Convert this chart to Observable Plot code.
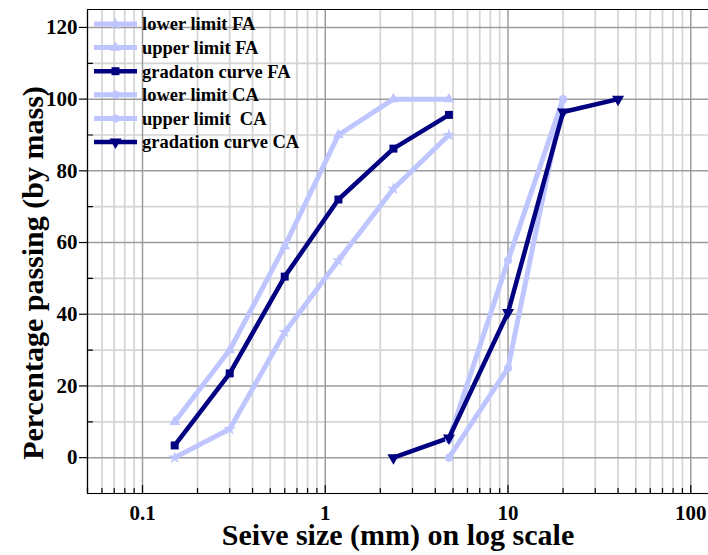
<!DOCTYPE html>
<html>
<head>
<meta charset="utf-8">
<script src="https://cdn.jsdelivr.net/npm/d3@7"></script>
<script src="https://cdn.jsdelivr.net/npm/@observablehq/plot@0.6"></script>
<style>
  body { margin: 0; background: #fff; }
  #chart { position: relative; width: 708px; height: 555px; overflow: hidden; font-family: "Liberation Serif", "Times New Roman", serif; }
  #chart svg { display: block; }
  #legend { position: absolute; left: 0; top: 0; pointer-events: none; }
  #legend text { font-family: "Liberation Serif", "Times New Roman", serif; font-weight: bold; font-size: 18.5px; fill: #000; white-space: pre; }
</style>
</head>
<body>
<div id="chart"></div>
<script>
// ---- Data ----
const sieveFA = [0.15, 0.3, 0.6, 1.18, 2.36, 4.75];
const lowerFA = [0, 8, 35, 55, 75, 90];
const upperFA = [10, 30, 59, 90, 100, 100];
const gradFA  = [3.4, 23.5, 50.5, 72, 86.2, 95.6];

const sieveCAlimits = [4.75, 10, 20];
const lowerCA = [0, 25, 100];
const upperCA = [5, 55, 100];

const sieveCAgrad = [2.36, 4.75, 10, 20, 40];
const gradCA = [0, 5.5, 40.5, 96.4, 100];

const seriesNames = ["lower limit FA", "upper limit FA", "gradaton curve FA", "lower limit CA", "upper limit  CA", "gradation curve CA"];

const xMajorTicks = [0.1, 1, 10, 100];
const xTickLabels = ["0.1", "1", "10", "100"];
const xMinorTicks = [0.05, 0.06, 0.07, 0.08, 0.09, 0.2, 0.3, 0.4, 0.5, 0.6, 0.7, 0.8, 0.9,
                     2, 3, 4, 5, 6, 7, 8, 9, 20, 30, 40, 50, 60, 70, 80, 90];
const yMajorTicks = [0, 20, 40, 60, 80, 100, 120];
const yMinorTicks = [-10, 10, 30, 50, 70, 90, 110];

const xTitle = "Seive size (mm) on log scale";
const yTitle = "Percentage passing (by mass)";

// ---- Styles ----
const light = "#bfc6ff", navy = "#000080";
const styles = [
  {color: light, width: 5, symbol: "star", r: 4, rotate: 0},
  {color: light, width: 5, symbol: "triangle", r: 4, rotate: 0},
  {color: navy, width: 4.5, symbol: "square", r: 4.5, rotate: 0},
  {color: light, width: 5, symbol: "circle", r: 4, rotate: 0},
  {color: light, width: 5, symbol: "circle", r: 4, rotate: 0},
  {color: navy, width: 4.5, symbol: "triangle", r: 4.5, rotate: 180}
];

const seriesData = [
  sieveFA.map((x, i) => ({x, y: lowerFA[i]})),
  sieveFA.map((x, i) => ({x, y: upperFA[i]})),
  sieveFA.map((x, i) => ({x, y: gradFA[i]})),
  sieveCAlimits.map((x, i) => ({x, y: lowerCA[i]})),
  sieveCAlimits.map((x, i) => ({x, y: upperCA[i]})),
  sieveCAgrad.map((x, i) => ({x, y: gradCA[i]}))
];

const dataMarks = [];
seriesData.forEach((d, i) => {
  const s = styles[i];
  dataMarks.push(Plot.line(d, {x: "x", y: "y", stroke: s.color, strokeWidth: s.width, strokeLinejoin: "round", strokeLinecap: "butt"}));
});
seriesData.forEach((d, i) => {
  const s = styles[i];
  dataMarks.push(Plot.dot(d, {x: "x", y: "y", symbol: s.symbol, r: s.r, fill: s.color, stroke: "none", rotate: s.rotate}));
});

const lineShape = {draw(ctx, l) { ctx.moveTo(0, 0); ctx.lineTo(0, -l); }};

const chart = Plot.plot({
  width: 708,
  height: 555,
  marginLeft: 87,
  marginRight: 0,
  marginTop: 9,
  marginBottom: 62,
  style: {fontFamily: "'Liberation Serif', 'Times New Roman', serif", fontWeight: "bold", color: "black", background: "white"},
  x: {type: "log", domain: [0.05, 125]},
  y: {domain: [-10, 125]},
  marks: [
    Plot.ruleX(xMinorTicks, {stroke: "#d4d4d4", strokeWidth: 1.7}),
    Plot.ruleY(yMinorTicks, {stroke: "#d4d4d4", strokeWidth: 1.7}),
    Plot.ruleX(xMajorTicks, {stroke: "#9c9c9c", strokeWidth: 1.5}),
    Plot.ruleY(yMajorTicks, {stroke: "#9c9c9c", strokeWidth: 1.5}),
    ...dataMarks,
    // frame (left, top, bottom)
    Plot.ruleX([0.05], {stroke: "black", strokeWidth: 1.2}),
    Plot.ruleY([-10, 125], {stroke: "black", strokeWidth: 1.2}),
    // inward x ticks
    Plot.vector(xMajorTicks, {x: d => d, frameAnchor: "bottom", anchor: "start", length: 8, shape: lineShape, stroke: "black", strokeWidth: 1.2}),
    Plot.vector(xMinorTicks, {x: d => d, frameAnchor: "bottom", anchor: "start", length: 5, shape: lineShape, stroke: "black", strokeWidth: 1.2}),
    // inward minor y ticks
    Plot.vector(yMinorTicks.filter(v => v > -10), {y: d => d, frameAnchor: "left", anchor: "start", rotate: 90, length: 5, shape: lineShape, stroke: "black", strokeWidth: 1.2}),
    Plot.axisX(xMajorTicks, {tickSize: 0, tickPadding: 12, fontSize: 21, fontWeight: "bold", label: null,
      tickFormat: d => xTickLabels[xMajorTicks.indexOf(d)]}),
    Plot.axisY(yMajorTicks, {tickSize: 8, tickPadding: 2, fontSize: 21, fontWeight: "bold", label: null, strokeWidth: 1.2}),
    Plot.text([xTitle], {frameAnchor: "bottom", lineAnchor: "middle", textAnchor: "middle", dy: 42, fontSize: 30, fontWeight: "bold", fill: "black"}),
    Plot.text([yTitle], {frameAnchor: "left", lineAnchor: "middle", textAnchor: "middle", dx: -54, dy: 21.5, rotate: -90, fontSize: 30, fontWeight: "bold", fill: "black"})
  ]
});

const container = document.getElementById("chart");
container.appendChild(chart);

// ---- Legend (inside the plot, top-left) ----
const legend = d3.select(container).append("svg")
  .attr("id", "legend").attr("width", 708).attr("height", 555);
const symbolTypes = {star: d3.symbolStar, triangle: d3.symbolTriangle, square: d3.symbolSquare, circle: d3.symbolCircle};
seriesNames.forEach((name, i) => {
  const s = styles[i];
  const cy = 24 + i * 23.6;
  const g = legend.append("g");
  g.append("line").attr("x1", 94).attr("x2", 137).attr("y1", cy).attr("y2", cy)
    .attr("stroke", s.color).attr("stroke-width", s.width);
  g.append("path")
    .attr("d", d3.symbol(symbolTypes[s.symbol], Math.PI * s.r * s.r)())
    .attr("transform", `translate(115.5,${cy}) rotate(${s.rotate})`)
    .attr("fill", s.color);
  g.append("text").attr("x", 142).attr("y", cy).attr("dy", "0.35em")
    .text(name);
});
</script>
</body>
</html>
